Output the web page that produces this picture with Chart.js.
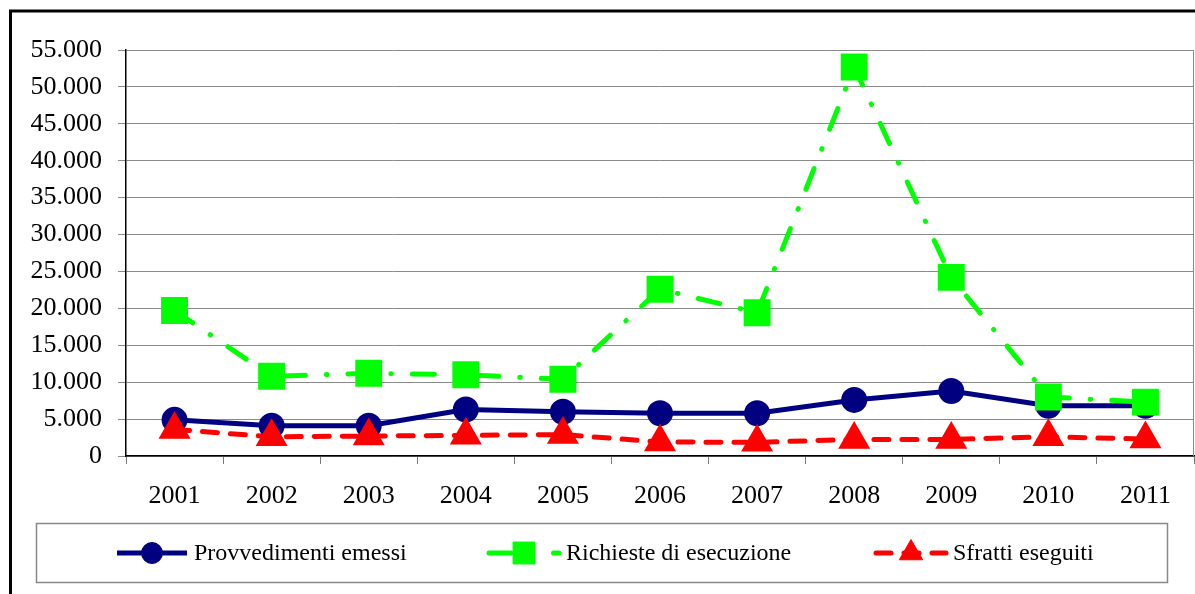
<!DOCTYPE html>
<html lang="it">

<head>
  <meta charset="UTF-8">
  <title>Sfratti 2001-2011</title>
  <style>
    body { margin: 0; background: #fff; }
    #wrap { width: 1195px; height: 594px; }
  </style>
</head>

<body>
  <div id="wrap">
    <canvas id="sfrattiChart" width="1195" height="594"></canvas>
  </div>

  <script src="https://cdn.jsdelivr.net/npm/chart.js"></script>
  <script>
    // dati annuali
    const anni = ['2001', '2002', '2003', '2004', '2005', '2006', '2007', '2008', '2009', '2010', '2011'];
    const provvedimenti = [4900, 4100, 4100, 6300, 6000, 5800, 5800, 7600, 8800, 6800, 6800];
    const richieste = [19700, 10800, 11200, 11000, 10400, 22600, 19400, 52700, 24200, 8000, 7300];
    const sfratti = [3600, 2600, 2700, 2800, 2900, 1900, 1850, 2250, 2250, 2600, 2300];
    const yMax = 55000;
    const yStep = 5000;

    const serif = '"Liberation Serif", "Times New Roman", serif';

    // 55000 -> "55.000"
    const puntiMigliaia = v => String(v).replace(/\B(?=(\d{3})+(?!\d))/g, '.');

    // cornice esterna, bordo destro del grafico e legenda nel riquadro in basso
    const cornicePlugin = {
      id: 'cornice',
      afterDraw(chart) {
        const ctx = chart.ctx;
        const area = chart.chartArea;
        ctx.save();

        ctx.strokeStyle = '#000';
        ctx.lineWidth = 3;
        ctx.beginPath();
        ctx.moveTo(10.5, 594);
        ctx.lineTo(10.5, 11);
        ctx.lineTo(1195, 11);
        ctx.stroke();

        ctx.strokeStyle = '#8c8c8c';
        ctx.lineWidth = 1;
        ctx.beginPath();
        ctx.moveTo(area.right - 0.5, area.top);
        ctx.lineTo(area.right - 0.5, area.bottom);
        ctx.stroke();

        // riquadro legenda
        ctx.strokeStyle = '#888';
        ctx.lineWidth = 1.5;
        ctx.strokeRect(36.5, 523.5, 1131, 59);

        const testoX = [194, 566, 953];
        const y = 553;
        chart.data.datasets.forEach((ds, i) => {
          const cx = testoX[i] - 42;
          ctx.save();
          ctx.strokeStyle = ds.borderColor;
          ctx.lineWidth = ds.borderWidth;
          ctx.lineCap = ds.borderCapStyle || 'butt';
          ctx.setLineDash(ds.borderDash || []);
          ctx.beginPath();
          ctx.moveTo(cx - 35, y);
          ctx.lineTo(cx + 35, y);
          ctx.stroke();
          ctx.restore();

          ctx.save();
          ctx.fillStyle = ds.pointBackgroundColor;
          ctx.strokeStyle = ds.pointBorderColor;
          ctx.lineWidth = 1;
          Chart.helpers.drawPoint(ctx, {
            pointStyle: ds.pointStyle,
            radius: ds.pointRadius,
            rotation: 0,
            borderWidth: 1
          }, cx, y);
          ctx.restore();

          ctx.fillStyle = '#000';
          ctx.font = '24px ' + serif;
          ctx.textAlign = 'left';
          ctx.textBaseline = 'middle';
          ctx.fillText(ds.label, testoX[i], y + 1);
        });

        ctx.restore();
      }
    };

    new Chart(document.getElementById('sfrattiChart'), {
      type: 'line',
      data: {
        labels: anni,
        datasets: [
          {
            label: 'Provvedimenti emessi',
            data: provvedimenti,
            borderColor: '#000080',
            borderWidth: 5,
            pointStyle: 'circle',
            pointRadius: 10.5,
            pointBackgroundColor: '#000080',
            pointBorderColor: '#000080',
            tension: 0,
            order: 3
          },
          {
            label: 'Richieste di esecuzione',
            data: richieste,
            borderColor: '#00ff00',
            borderWidth: 5,
            borderDash: [22, 21, 0.5, 21],
            borderCapStyle: 'round',
            pointStyle: 'rect',
            pointRadius: 15.5,
            pointBackgroundColor: '#00ff00',
            pointBorderColor: '#00ff00',
            tension: 0,
            order: 2
          },
          {
            label: 'Sfratti eseguiti',
            data: sfratti,
            borderColor: '#ff0000',
            borderWidth: 5,
            borderDash: [15, 13],
            borderCapStyle: 'round',
            pointStyle: 'triangle',
            pointRadius: 13.5,
            pointBackgroundColor: '#ff0000',
            pointBorderColor: '#ff0000',
            tension: 0,
            order: 1
          }
        ]
      },
      options: {
        responsive: false,
        animation: false,
        events: [],
        layout: { autoPadding: false, padding: { top: 50, right: 1, bottom: 0, left: 0 } },
        plugins: {
          legend: { display: false },
          tooltip: { enabled: false }
        },
        scales: {
          x: {
            offset: true,
            grid: {
              offset: true,
              drawOnChartArea: false,
              drawTicks: true,
              tickLength: 8,
              color: '#7a7a7a'
            },
            border: { display: true, color: '#000', width: 1.5 },
            ticks: {
              color: '#000',
              padding: 17,
              font: { family: serif, size: 26 },
              maxRotation: 0
            },
            afterFit(scale) {
              scale.height = 138;
              scale.paddingLeft = 0;
              scale.paddingRight = 0;
            }
          },
          y: {
            min: 0,
            max: yMax,
            grid: {
              color: '#8a8a8a',
              lineWidth: 1,
              tickLength: 8
            },
            border: { display: true, color: '#000', width: 1.5 },
            ticks: {
              stepSize: yStep,
              color: '#000',
              padding: 16,
              font: { family: serif, size: 26 },
              callback: v => puntiMigliaia(v)
            },
            afterFit(scale) { scale.width = 126; }
          }
        }
      },
      plugins: [cornicePlugin]
    });
  </script>
</body>

</html>
